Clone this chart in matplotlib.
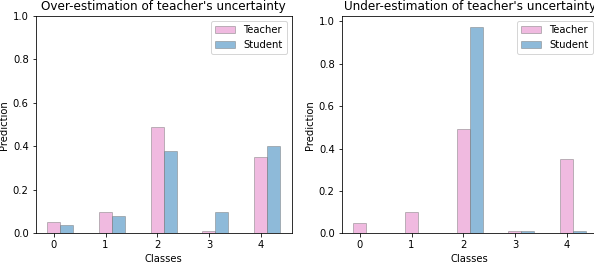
import numpy as np
import matplotlib
matplotlib.use('Agg')
import matplotlib.pyplot as plt

classes = [0, 1, 2, 3, 4]
teacher = [0.05, 0.10, 0.49, 0.01, 0.35]
student_over = [0.04, 0.08, 0.38, 0.10, 0.40]
student_under = [0.0, 0.0, 0.975, 0.01, 0.01]

x = np.arange(len(classes))
w = 0.25

fig = plt.figure(figsize=(594/72, 262/72), dpi=72)
ax1 = fig.add_axes([35.7/594, 1 - 233.3/262, 256/594, 217.3/262])
ax2 = fig.add_axes([341.7/594, 1 - 233.3/262, 256/594, 217.0/262])

def draw(ax, student, title):
    ax.bar(x, teacher, width=w, color='C6', alpha=0.5, edgecolor='grey', label='Teacher')
    ax.bar(x + w, student, width=w, color='C0', alpha=0.5, edgecolor='grey', label='Student')
    ax.set_xticks(x)
    ax.set_xticklabels(classes)
    ax.set_xlabel('Classes')
    ax.set_ylabel('Prediction')
    ax.set_title(title)
    ax.legend(loc='upper right')

draw(ax1, student_over, "Over-estimation of teacher's uncertainty")
ax1.set_ylim(0, 1)
draw(ax2, student_under, "Under-estimation of teacher's uncertainty")

fig.savefig('out.png', dpi=72)
